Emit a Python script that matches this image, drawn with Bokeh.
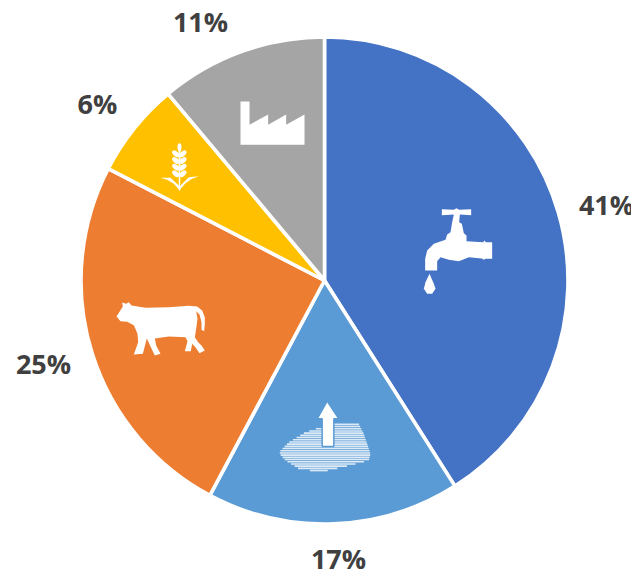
from math import pi
import numpy as np
from bokeh.plotting import figure
from bokeh.models import Range1d, ColumnDataSource
from bokeh.core.properties import value
from bokeh.embed import file_html
from bokeh.resources import INLINE

categories = ["Drinking water", "Groundwater", "Livestock", "Crops", "Industry"]
shares = [41.0, 16.8, 24.8, 6.3, 11.1]
colors = ["#4472C4", "#5B9BD5", "#ED7D31", "#FFC000", "#A5A5A5"]
labels = ["41%", "17%", "25%", "6%", "11%"]
label_x = [606, 338, 43, 97, 200]
label_y = [204, 558, 363, 103, 21]

W, H = 631, 570
def X(a): return np.asarray(a, float)
def Y(a): return H - np.asarray(a, float)

p = figure(width=W, height=H, output_backend="svg", toolbar_location=None,
           x_range=Range1d(0, W), y_range=Range1d(0, H), min_border=0,
           outline_line_color=None, background_fill_color="white")
p.axis.visible = False
p.grid.visible = False

fr = np.array(shares, float) / sum(shares)
ends = np.cumsum(fr)
starts = ends - fr
src = ColumnDataSource(dict(start=pi/2 - starts*2*pi, end=pi/2 - ends*2*pi, color=colors, cat=categories))
p.wedge(x=float(X(324)), y=float(Y(280)), radius=243.5, start_angle="start", end_angle="end",
        direction="clock", fill_color="color", line_color="white", line_width=3.6, source=src)

def shape(pts, ox, oy, **kw):
    a = np.array(pts, float)
    px, py = ox + a[:, 0]/3, oy + a[:, 1]/3
    kw.setdefault("fill_color", "white")
    kw.setdefault("line_color", None)
    p.patch(X(px), Y(py), **kw)

# faucet
faucet = [(124,56),(160,58),(168,53),(176,58),(212,56),(212,74),(178,72),(176,95),(184,100),(190,128),
          (198,135),(198,152),(248,155),(252,150),(256,155),(275,155),(275,205),(256,205),(250,208),(244,204),
          (205,200),(175,212),(145,208),(120,200),(110,212),(110,240),(74,240),(74,205),(80,180),(100,160),
          (135,148),(140,132),(150,125),(155,95),(160,72),(124,74)]
drop = [(87,250),(100,280),(105,295),(95,310),(80,310),(70,295),(75,275)]
shape(faucet, 400, 190)
shape(drop, 400, 190)

# pond with rippled lines
pond = [(45,180),(70,155),(120,125),(165,110),(210,100),(280,100),(295,130),(315,190),(310,210),
        (240,228),(165,245),(100,235),(60,210),(42,190)]
pa = np.array(pond, float)
pxs, pys = 265 + pa[:, 0]/3, 390 + pa[:, 1]/3
xs_all, ys_all = [], []
for row in np.arange(pys.min()+0.5, pys.max(), 2.2):
    hits = []
    for k in range(len(pxs)):
        x0, y0, x1, y1 = pxs[k], pys[k], pxs[(k+1) % len(pxs)], pys[(k+1) % len(pxs)]
        if (y0 - row)*(y1 - row) < 0:
            hits.append(x0 + (row - y0)/(y1 - y0)*(x1 - x0))
    if len(hits) >= 2:
        xs_all.append(X([min(hits), max(hits)]).tolist())
        ys_all.append(Y([row, row]).tolist())
p.multi_line(xs_all, ys_all, line_color="white", line_width=1.6, line_alpha=0.8)
arrow = [(185,32),(220,85),(205,85),(205,168),(170,168),(170,85),(155,85)]
shape(arrow, 265, 390, line_color="#5B9BD5", line_width=1.5)

# cow
cow = [(33,78),(52,48),(50,36),(62,40),(70,35),(78,45),(120,52),(190,50),(250,46),(275,48),(290,60),(298,80),
       (298,100),(296,122),(288,118),(288,95),(282,72),(272,62),(276,85),(272,115),(268,140),(278,155),(288,165),
       (298,180),(282,188),(270,170),(260,160),(256,182),(238,182),(246,152),(240,140),(190,138),(148,144),
       (152,165),(165,190),(148,195),(135,168),(124,144),(112,190),(85,192),(98,155),(96,130),(85,104),(65,94),(45,92)]
shape(cow, 105, 290)

# factory
factory = [(270,33),(297,33),(297,103),(353,72),(353,103),(407,72),(407,103),(462,72),(462,163),(270,163)]
shape(factory, 150, 90)

# wheat
shape([(84,175),(90,175),(89,300),(85,300)], 150, 90)
shape([(30,262),(60,262),(85,285),(88,300),(70,280),(50,268)], 150, 90)
shape([(145,257),(115,260),(90,285),(86,300),(105,278),(125,265)], 150, 90)
gx = np.array([87] + [76]*4 + [97]*4, float)
gy = np.array([170, 190, 210, 230, 250, 190, 210, 230, 250], float)
gw = [4] + [8.5]*8
gh = [8] + [5]*8
ga = [0] + [-0.7]*4 + [0.7]*4
p.ellipse(X(150 + gx/3), Y(90 + gy/3), width=gw, height=gh, angle=ga, fill_color="white", line_color=None)

p.text(X(label_x), Y(label_y), text=labels, text_font=value("Open Sans"), text_font_style="bold",
       text_font_size="27px", text_color="#404040", text_align="center", text_baseline="middle")

open("out.html", "w").write(file_html(p, INLINE))
